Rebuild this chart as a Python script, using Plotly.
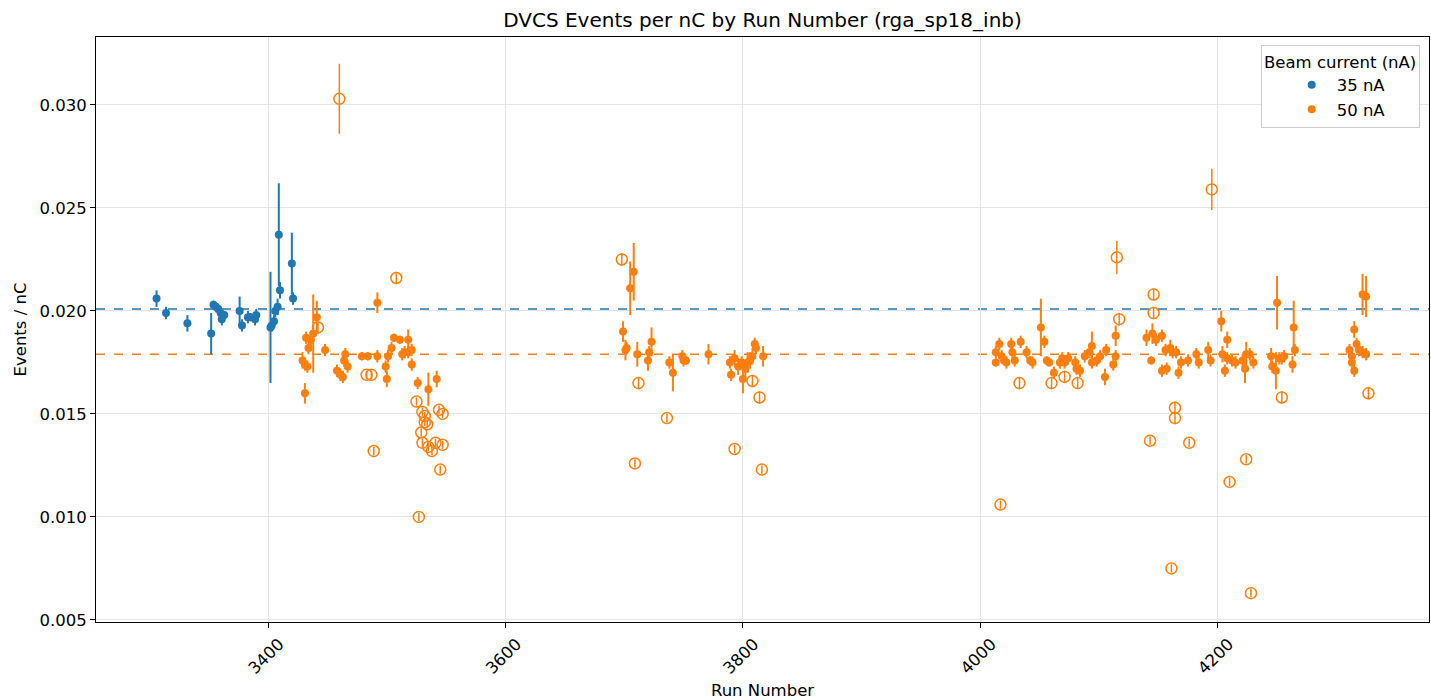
import plotly.graph_objects as go

# 35 nA runs (filled points)
runs_35 = [3306, 3314, 3332, 3352, 3354, 3356, 3358, 3360, 3361, 3363, 3376, 3378, 3383,
           3385, 3389, 3390, 3402, 3403, 3405, 3406, 3408, 3409, 3410, 3420, 3421]
vals_35 = [0.0206, 0.0199, 0.0194, 0.0189, 0.0203, 0.0202, 0.0201, 0.0199, 0.0196, 0.0198,
           0.0200, 0.0193, 0.0197, 0.0197, 0.0196, 0.0198, 0.0192, 0.0193, 0.0195, 0.0200,
           0.0202, 0.0237, 0.0210, 0.0223, 0.0206]
errs_35 = [0.0004, 0.0003, 0.0004, 0.0010, 0.0002, 0.0002, 0.0002, 0.0002, 0.0003, 0.0002,
           0.0007, 0.0003, 0.0003, 0.0002, 0.0003, 0.0003, 0.0027, 0.0003, 0.0003, 0.0003,
           0.0004, 0.0025, 0.0004, 0.0015, 0.0003]

# 50 nA runs (filled points)
runs_50 = [3429, 3431, 3433, 3431, 3432, 3434, 3436, 3438, 3441, 3448,
           3458, 3461, 3463, 3464, 3465, 3467, 3479, 3484, 3492, 3492,
           3499, 3500, 3501, 3504, 3506, 3511, 3513, 3515, 3518, 3518, 3521, 3521, 3526, 3535, 3542,
           3699, 3701, 3702, 3705, 3708, 3711, 3720, 3721, 3723, 3738, 3741, 3749, 3750, 3752, 3771,
           3789, 3790, 3793, 3796, 3799, 3800, 3802, 3804, 3806, 3808, 3810, 3811, 3817,
           4013, 4013, 4016, 4018, 4020, 4022, 4026, 4027, 4029, 4034, 4039, 4042, 4044, 4051,
           4054, 4056, 4058, 4062, 4067, 4069, 4071, 4074, 4080, 4081, 4084, 4088, 4092, 4094,
           4094, 4098, 4101, 4105, 4106, 4112, 4114, 4114,
           4140, 4144, 4145, 4148, 4153, 4153, 4156, 4157, 4160, 4162, 4165, 4167, 4169, 4175,
           4182, 4184, 4192, 4194, 4203, 4204, 4206, 4208, 4208, 4212, 4215, 4221, 4223, 4224,
           4227, 4230, 4245, 4246, 4249, 4250, 4252, 4254, 4256, 4263, 4264, 4265,
           4311, 4313, 4313, 4315, 4315, 4317, 4319, 4322, 4325, 4322, 4325]
vals_50 = [0.0176, 0.0174, 0.0173, 0.0160, 0.0187, 0.0182, 0.0186, 0.0189, 0.0197, 0.0181,
           0.0171, 0.0169, 0.0168, 0.0176, 0.0179, 0.0173, 0.0178, 0.0178, 0.0178, 0.0204,
           0.0173, 0.0167, 0.0178, 0.0182, 0.0187, 0.0186, 0.0179, 0.0180, 0.0186, 0.0180, 0.0181, 0.0174, 0.0165, 0.0162, 0.0167,
           0.0190, 0.0181, 0.0182, 0.0211, 0.0219, 0.0179, 0.0176, 0.0180, 0.0185, 0.0175, 0.0170, 0.0178, 0.0176, 0.0176, 0.0179,
           0.0175, 0.0169, 0.0177, 0.0173, 0.0175, 0.0167, 0.0172, 0.0175, 0.0176, 0.0178, 0.0184, 0.0182, 0.0178,
           0.0175, 0.0180, 0.0184, 0.0178, 0.0176, 0.0175, 0.0184, 0.0180, 0.0176, 0.0185, 0.0180, 0.0176, 0.0175, 0.0192,
           0.0185, 0.0176, 0.0175, 0.0170, 0.0175, 0.0177, 0.0175, 0.0177, 0.0175, 0.0172, 0.0171, 0.0178, 0.0180, 0.0183,
           0.0175, 0.0176, 0.0178, 0.0168, 0.0181, 0.0174, 0.0178, 0.0188,
           0.0187, 0.0176, 0.0189, 0.0186, 0.0188, 0.0171, 0.0181, 0.0172, 0.0182, 0.0180, 0.0180, 0.0170, 0.0175, 0.0176,
           0.0179, 0.0175, 0.0181, 0.0176, 0.0195, 0.0179, 0.0171, 0.0186, 0.0177, 0.0176, 0.0175, 0.0176, 0.0172, 0.0179,
           0.0179, 0.0175, 0.0178, 0.0173, 0.0171, 0.0204, 0.0177, 0.0177, 0.0178, 0.0174, 0.0192, 0.0181,
           0.0181, 0.0178, 0.0175, 0.0171, 0.0191, 0.0184, 0.0181, 0.0180, 0.0179, 0.0208, 0.0207]
errs_50 = [0.0004, 0.0003, 0.0003, 0.0005, 0.0003, 0.0003, 0.0003, 0.0019, 0.0008, 0.0003,
           0.0003, 0.0003, 0.0003, 0.0003, 0.0003, 0.0003, 0.0002, 0.0002, 0.0003, 0.0005,
           0.0003, 0.0004, 0.0003, 0.0003, 0.0002, 0.0002, 0.0003, 0.0003, 0.0005, 0.0003, 0.0003, 0.0003, 0.0003, 0.0008, 0.0004,
           0.0005, 0.0005, 0.0003, 0.0013, 0.0014, 0.0006, 0.0005, 0.0003, 0.0007, 0.0003, 0.0009, 0.0003, 0.0003, 0.0002, 0.0005,
           0.0003, 0.0003, 0.0004, 0.0004, 0.0003, 0.0007, 0.0004, 0.0005, 0.0004, 0.0004, 0.0003, 0.0003, 0.0005,
           0.0002, 0.0003, 0.0003, 0.0003, 0.0002, 0.0003, 0.0003, 0.0003, 0.0003, 0.0003, 0.0003, 0.0002, 0.0003, 0.0014,
           0.0003, 0.0002, 0.0002, 0.0003, 0.0003, 0.0003, 0.0003, 0.0003, 0.0003, 0.0003, 0.0003, 0.0003, 0.0003, 0.0007,
           0.0003, 0.0003, 0.0003, 0.0004, 0.0003, 0.0003, 0.0003, 0.0005,
           0.0004, 0.0002, 0.0005, 0.0003, 0.0003, 0.0003, 0.0003, 0.0003, 0.0004, 0.0003, 0.0003, 0.0003, 0.0003, 0.0003,
           0.0003, 0.0003, 0.0004, 0.0003, 0.0005, 0.0004, 0.0003, 0.0004, 0.0003, 0.0003, 0.0003, 0.0003, 0.0007, 0.0006,
           0.0003, 0.0003, 0.0004, 0.0003, 0.0009, 0.0013, 0.0003, 0.0003, 0.0003, 0.0004, 0.0013, 0.0003,
           0.0003, 0.0003, 0.0003, 0.0003, 0.0004, 0.0003, 0.0003, 0.0003, 0.0003, 0.0010, 0.0010]

# 50 nA outlier runs (open markers)
runs_out = [3442, 3460, 3483, 3487, 3489, 3508, 3525, 3530, 3532, 3532, 3534, 3544, 3547,
            3529, 3530, 3535, 3538, 3541, 3547, 3545, 3527,
            3698, 3712, 3709, 3736, 3808, 3814, 3793, 3816,
            4017, 4033, 4060, 4071, 4082, 4117, 4115,
            4146, 4146, 4143, 4164, 4164, 4176, 4161, 4195, 4210, 4224, 4228, 4254, 4327]
vals_out = [0.0192, 0.0303, 0.0169, 0.0169, 0.0132, 0.0216, 0.0156, 0.0151, 0.0149, 0.0146, 0.0145, 0.0152, 0.0150,
            0.0141, 0.0136, 0.0134, 0.0132, 0.0136, 0.0135, 0.0123, 0.0100,
            0.0225, 0.0165, 0.0126, 0.0148, 0.0166, 0.0158, 0.0133, 0.0123,
            0.0106, 0.0165, 0.0165, 0.0168, 0.0165, 0.0196, 0.0226,
            0.0208, 0.0199, 0.0137, 0.0153, 0.0148, 0.0136, 0.0075, 0.0259, 0.0117, 0.0128, 0.0063, 0.0158, 0.0160]
errs_out = [0.0003, 0.0017, 0.0002, 0.0002, 0.0002, 0.0003, 0.0002, 0.0002, 0.0002, 0.0002, 0.0002, 0.0002, 0.0002,
            0.0002, 0.0002, 0.0002, 0.0002, 0.0002, 0.0002, 0.0002, 0.0002,
            0.0003, 0.0003, 0.0002, 0.0002, 0.0003, 0.0003, 0.0002, 0.0002,
            0.0002, 0.0003, 0.0003, 0.0003, 0.0003, 0.0003, 0.0008,
            0.0003, 0.0003, 0.0002, 0.0003, 0.0003, 0.0002, 0.0002, 0.0010, 0.0002, 0.0002, 0.0002, 0.0003, 0.0003]

mean_35 = 0.0201
mean_50 = 0.0179

BLUE = "#1f77b4"
ORANGE = "#ff7f0e"

fig = go.Figure()

fig.add_trace(go.Scatter(
    x=runs_35, y=vals_35, mode="markers", name="35 nA",
    marker=dict(color=BLUE, size=8, symbol="circle"),
    error_y=dict(type="data", array=errs_35, width=0, thickness=2, color=BLUE),
))
fig.add_trace(go.Scatter(
    x=runs_50, y=vals_50, mode="markers", name="50 nA",
    marker=dict(color=ORANGE, size=8, symbol="circle"),
    error_y=dict(type="data", array=errs_50, width=0, thickness=2, color=ORANGE),
))
fig.add_trace(go.Scatter(
    x=runs_out, y=vals_out, mode="markers", showlegend=False,
    marker=dict(color=ORANGE, size=11, symbol="circle-open", line=dict(width=1.5)),
    error_y=dict(type="data", array=errs_out, width=0, thickness=1.5, color=ORANGE),
))

# mean lines
for m, c in [(mean_35, BLUE), (mean_50, ORANGE)]:
    fig.add_shape(type="line", xref="paper", x0=0, x1=1, y0=m, y1=m,
                  line=dict(color=c, width=1.5, dash="dash"), layer="below")

axis_common = dict(
    showline=True, linecolor="black", linewidth=1, mirror=True,
    ticks="outside", ticklen=5, tickcolor="black", automargin=False,
    showgrid=True, gridcolor="#e5e5e5", gridwidth=1, zeroline=False,
    tickfont=dict(size=16.5, color="black"),
)

fig.update_layout(
    width=1431, height=700,
    margin=dict(l=96, r=2, t=37, b=78, autoexpand=False),
    paper_bgcolor="white", plot_bgcolor="white",
    font=dict(family="DejaVu Sans", color="black"),
    title=dict(text="DVCS Events per nC by Run Number (rga_sp18_inb)",
               x=(96 + 1429) / 2 / 1431, xanchor="center", y=0.972, yanchor="middle",
               font=dict(size=20)),
    xaxis=dict(range=[3255, 4378], tickvals=[3400, 3600, 3800, 4000, 4200], tickangle=-45,
               ticklabelshift=11,
               title=dict(text="Run Number", font=dict(size=16.5), standoff=8), **axis_common),
    yaxis=dict(range=[0.0049, 0.0333], tickvals=[0.005, 0.010, 0.015, 0.020, 0.025, 0.030],
               tickformat=".3f",
               title=dict(text="Events / nC", font=dict(size=16.5), standoff=8), **axis_common),
    legend=dict(x=0.993, y=0.986, xanchor="right", yanchor="top",
                bgcolor="white", bordercolor="#cccccc", borderwidth=1,
                indentation=25, itemwidth=40,
                title=dict(text="Beam current (nA)", side="top center", font=dict(size=16.5)),
                font=dict(size=16.5)),
)

fig.write_html("out.html", config={"displayModeBar": False},
               post_script="document.body.style.margin='0';")
